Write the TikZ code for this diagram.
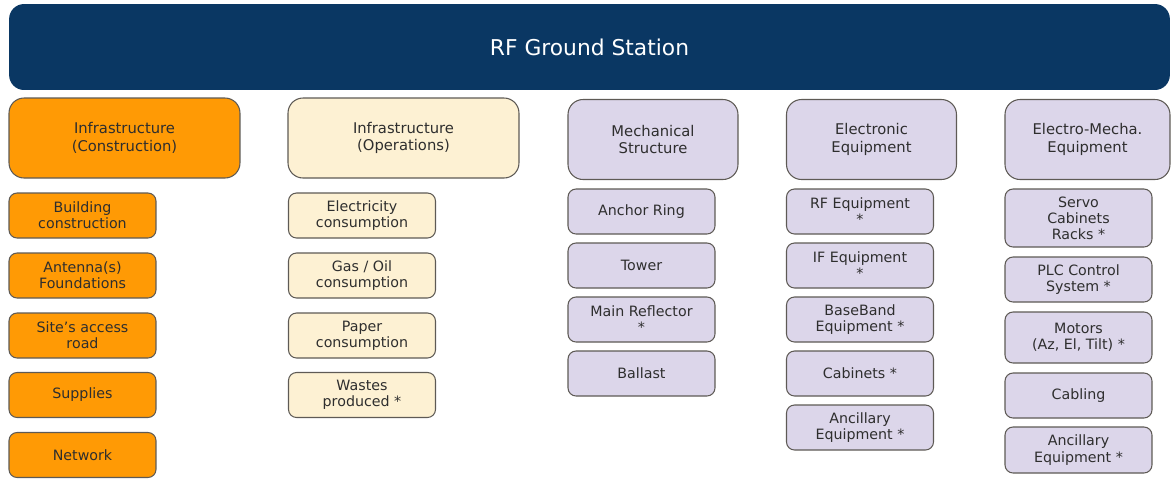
\documentclass[tikz,border=0pt]{standalone}
\usepackage{fontspec}
\setmainfont{DejaVu Sans}
\definecolor{navy}{HTML}{0A3763}
\definecolor{orng}{HTML}{FF9A05}
\definecolor{cream}{HTML}{FDF1D3}
\definecolor{lilac}{HTML}{DCD6EA}
\definecolor{edge}{HTML}{5E5A55}
\definecolor{txt}{HTML}{2E2E2E}
\begin{document}
\begin{tikzpicture}[x=0.02cm,y=-0.02cm,
	every node/.style={align=center, text=txt, inner sep=1pt},
	head/.style={draw=edge, line width=0.6pt, rounded corners=0.3cm, minimum height=1.6cm, font=\fontsize{8.4}{10}\selectfont},
	item/.style={draw=edge, line width=0.6pt, rounded corners=0.16cm, minimum width=2.94cm, minimum height=0.9cm, font=\fontsize{8.1}{9.2}\selectfont},
	wide/.style={minimum width=4.62cm},
	narrow/.style={minimum width=3.4cm}]
	\useasboundingbox (0,0) rectangle (1171,478);

	\node[fill=navy, rounded corners=0.3cm, minimum width=23.22cm, minimum height=1.72cm, text=white, font=\fontsize{12.4}{14}\selectfont] (rf) at (589.5,47) {RF Ground Station};

	% column heads
	\node[head, wide, fill=orng] (ic) at (124.5,138) {Infrastructure\\(Construction)};
	\node[head, wide, fill=cream] (io) at (403.5,138) {Infrastructure\\(Operations)};
	\node[head, narrow, fill=lilac] (ms) at (653,139.5) {Mechanical\\Structure};
	\node[head, narrow, fill=lilac] (ee) at (871.5,139.5) {Electronic\\Equipment};
	\node[head, minimum width=3.3cm, fill=lilac] (em) at (1087.5,139.5) {Electro-Mecha.\\Equipment};

	% construction
	\node[item, fill=orng] (ic1) at (82.5,215.5) {Building\\construction};
	\node[item, fill=orng] (ic2) at (82.5,275.5) {Antenna(s)\\Foundations};
	\node[item, fill=orng] (ic3) at (82.5,335.5) {Site’s access\\road};
	\node[item, fill=orng] (ic4) at (82.5,395) {Supplies};
	\node[item, fill=orng] (ic5) at (82.5,455) {Network};

	% operations
	\node[item, fill=cream] (io1) at (362,215.5) {Electricity\\consumption};
	\node[item, fill=cream] (io2) at (362,275.5) {Gas / Oil\\consumption};
	\node[item, fill=cream] (io3) at (362,335.5) {Paper\\consumption};
	\node[item, fill=cream] (io4) at (362,395) {Wastes\\produced *};

	% mechanical
	\node[item, fill=lilac] (ms1) at (641.5,211.5) {Anchor Ring};
	\node[item, fill=lilac] (ms2) at (641.5,265.5) {Tower};
	\node[item, fill=lilac] (ms3) at (641.5,319.5) {Main Reflector\\*};
	\node[item, fill=lilac] (ms4) at (641.5,373.5) {Ballast};

	% electronic
	\node[item, fill=lilac] (ee1) at (860,211.5) {RF Equipment\\*};
	\node[item, fill=lilac] (ee2) at (860,265.5) {IF Equipment\\*};
	\node[item, fill=lilac] (ee3) at (860,319.5) {BaseBand\\Equipment *};
	\node[item, fill=lilac] (ee4) at (860,373.5) {Cabinets *};
	\node[item, fill=lilac] (ee5) at (860,427.5) {Ancillary\\Equipment *};

	% electro-mechanical
	\node[item, fill=lilac, minimum height=1.16cm] (em1) at (1078.5,218) {Servo\\Cabinets\\Racks *};
	\node[item, fill=lilac] (em2) at (1078.5,279.5) {PLC Control\\System *};
	\node[item, fill=lilac, minimum height=1.02cm] (em3) at (1078.5,337.5) {Motors\\(Az, El, Tilt) *};
	\node[item, fill=lilac] (em4) at (1078.5,395.5) {Cabling};
	\node[item, fill=lilac, minimum height=0.92cm] (em5) at (1078.5,450) {Ancillary\\Equipment *};
\end{tikzpicture}
\end{document}
